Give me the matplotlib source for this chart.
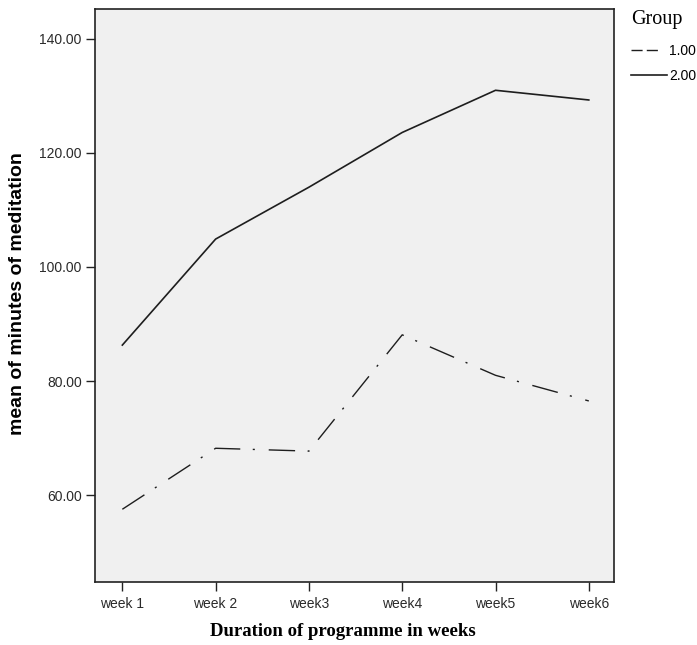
import matplotlib.pyplot as plt
import numpy as np

# values
weeks = ["week 1", "week 2", "week3", "week4", "week5", "week6"]
group1 = [57.5, 68.2, 67.7, 88.1, 81.0, 76.5]
group2 = [86.3, 104.9, 114.0, 123.6, 131.0, 129.3]
yticks = [60, 80, 100, 120, 140]

fig = plt.figure(figsize=(6.97, 6.45), dpi=100)
W, H = 697, 645
ax = fig.add_axes([95 / W, 1 - 582 / H, (614 - 95) / W, (582 - 9) / H])
ax.set_facecolor("#f0f0f0")

x = np.arange(len(weeks))
ax.plot(x, group1, color="#1e1e1e", lw=1.0,
        linestyle=(0, (19, 9, 1.5, 10)), label="1.00")
ax.plot(x, group2, color="#1e1e1e", lw=1.2, label="2.00")

ax.set_xlim(-0.293, 5.27)
ax.set_ylim(44.74, 145.26)
ax.set_xticks(x)
ax.set_xticklabels(weeks, fontsize=10, family="Liberation Sans", color="#2a2a2a")
ax.set_yticks(yticks)
ax.set_yticklabels([f"{v:.2f}" for v in yticks], fontsize=10,
                   family="Liberation Sans", color="#2a2a2a")
ax.tick_params(length=6.5, width=1, color="#222222")
ax.tick_params(axis="x", pad=4.5)
ax.tick_params(axis="y", pad=3)
for s in ax.spines.values():
    s.set_linewidth(1.2)
    s.set_color("#222222")

fig.text(342.5 / W, 1 - 632 / H, "Duration of programme in weeks",
         ha="center", va="center", fontsize=13.5, fontweight="bold",
         family="Liberation Serif")
fig.text(17.5 / W, 1 - 294 / H, "mean of minutes of meditation",
         ha="center", va="center", rotation=90, fontsize=14, fontweight="bold",
         family="Liberation Sans")

leg = fig.legend(loc="upper left", bbox_to_anchor=(631 / W, 1 - 10 / H),
                 frameon=False, title="Group", fontsize=10,
                 handlelength=2.6, handletextpad=0.15, labelspacing=0.75,
                 borderaxespad=0, borderpad=0)
leg.get_title().set_family("Liberation Serif")
leg.get_title().set_fontsize(14.5)
leg._legend_box.align = "left"
leg._legend_box.sep = 11
leg.legend_handles[0].set_linestyle((0, (8, 3, 8, 20)))
for t in leg.get_texts():
    t.set_family("Liberation Sans")

fig.savefig("out.png", dpi=100)
